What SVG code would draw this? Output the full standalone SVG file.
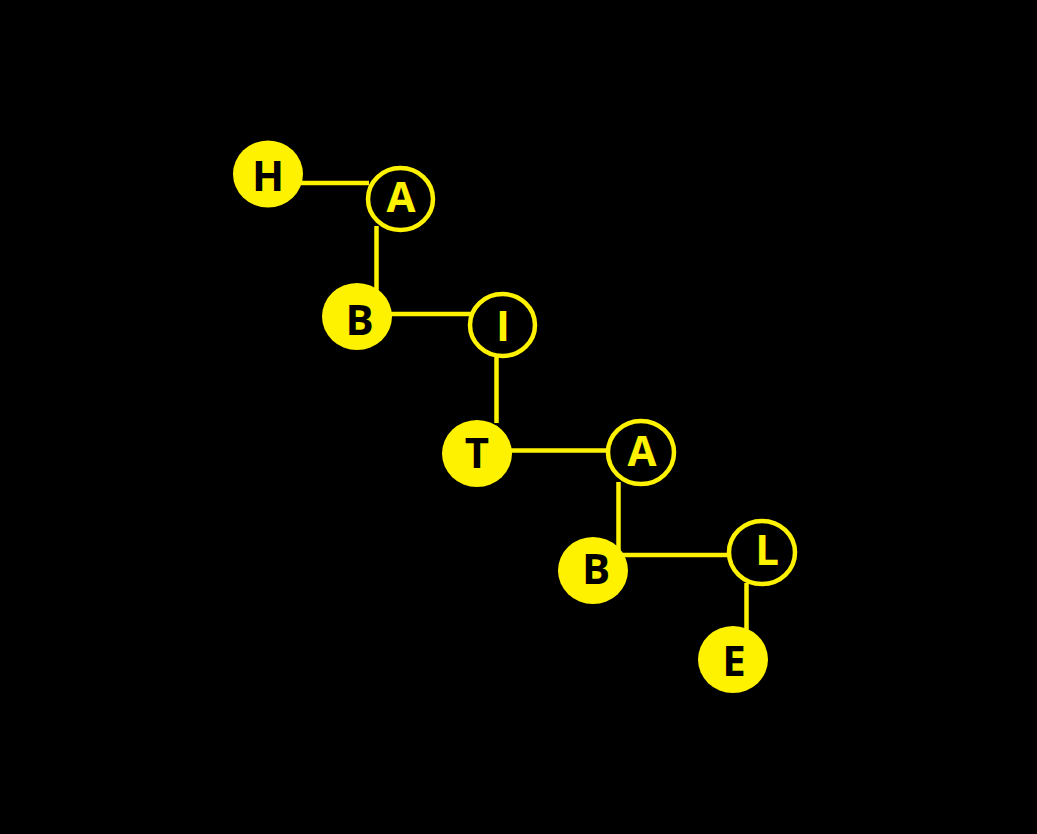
<svg xmlns="http://www.w3.org/2000/svg" width="1037" height="834" viewBox="0 0 1037 834">
  <style>
    .edge { stroke: #FFF200; stroke-width: 4.5; fill: none; }
    .solid { fill: #FFF200; }
    .ring { fill: #000; stroke: #FFF200; stroke-width: 4.5; }
    .lbl { font-family: "Open Sans", "DejaVu Sans", sans-serif; font-weight: bold; font-size: 42px; text-anchor: middle; }
    .dark { fill: #000; }
    .light { fill: #FFF200; }
  </style>
  <rect x="0" y="0" width="1037" height="834" fill="#000"/>
  <g id="connectors">
    <line class="edge" x1="300" y1="183" x2="369" y2="183"/>
    <line class="edge" x1="376.5" y1="226" x2="376.5" y2="292"/>
    <line class="edge" x1="388" y1="314" x2="471" y2="314"/>
    <line class="edge" x1="496.5" y1="355" x2="496.5" y2="423"/>
    <line class="edge" x1="508" y1="450.5" x2="609" y2="450.5"/>
    <polyline class="edge" points="618.5,482 618.5,555 729,555"/>
    <line class="edge" x1="746.5" y1="583" x2="746.5" y2="630"/>
  </g>
  <g id="node-H">
    <ellipse class="solid" cx="268" cy="174" rx="35" ry="33.5"/>
    <text class="lbl dark" x="268" y="191">H</text>
  </g>
  <g id="node-A1">
    <ellipse class="ring" cx="400.5" cy="199" rx="32.5" ry="31"/>
    <text class="lbl light" x="401" y="212">A</text>
  </g>
  <g id="node-B1">
    <ellipse class="solid" cx="357" cy="316.5" rx="35" ry="33.5"/>
    <text class="lbl dark" x="359.5" y="335">B</text>
  </g>
  <g id="node-I">
    <ellipse class="ring" cx="502.5" cy="325" rx="32.5" ry="31"/>
    <text class="lbl light" x="503" y="341">I</text>
  </g>
  <g id="node-T">
    <ellipse class="solid" cx="477" cy="453.5" rx="35" ry="33.5"/>
    <text class="lbl dark" x="477" y="468">T</text>
  </g>
  <g id="node-A2">
    <ellipse class="ring" cx="641" cy="452.5" rx="33" ry="31.5"/>
    <text class="lbl light" x="642" y="466">A</text>
  </g>
  <g id="node-B2">
    <ellipse class="solid" cx="593" cy="570.5" rx="35" ry="33.5"/>
    <text class="lbl dark" x="596" y="584">B</text>
  </g>
  <g id="node-L">
    <ellipse class="ring" cx="762" cy="552.5" rx="33" ry="31.5"/>
    <text class="lbl light" x="767" y="565">L</text>
  </g>
  <g id="node-E">
    <ellipse class="solid" cx="733" cy="659.5" rx="35" ry="33.5"/>
    <text class="lbl dark" x="734" y="676">E</text>
  </g>
</svg>
